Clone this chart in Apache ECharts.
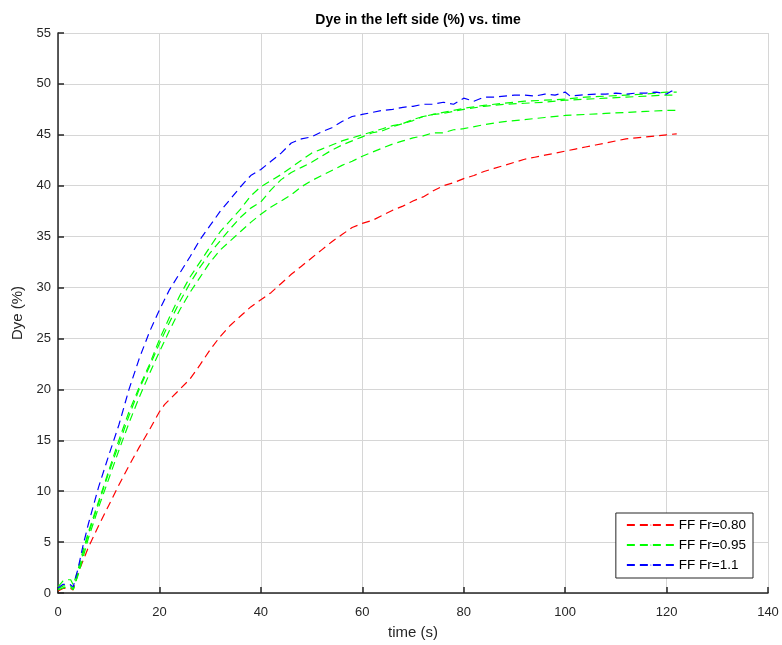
<!DOCTYPE html>
<html>
<head>
<meta charset="utf-8">
<script src="https://cdn.jsdelivr.net/npm/echarts@6/dist/echarts.min.js"></script>
<style>
  html, body { margin: 0; padding: 0; background: #ffffff; }
  #chart { width: 782px; height: 645px; }
</style>
</head>
<body>
<div id="chart"></div>
<script>
// Dye fraction in the left side (%) over time (s), one array per run.
const timeRed = [0, 1, 2, 2.5, 3, 4, 6, 8, 10, 12, 14, 16, 18, 20, 21, 22, 24, 26, 28, 30, 32, 34, 36, 38, 40, 42, 44, 46, 48, 50, 52, 54, 56, 58, 60, 62, 64, 66, 68, 70, 72, 74, 76, 78, 80, 82, 84, 86, 88, 90, 92, 94, 96, 98, 100, 102, 104, 106, 108, 110, 112, 114, 116, 118, 120, 122];
const dyeRed080 = [0.2, 0.45, 0.45, 0.45, 0.3, 2.0, 4.5, 6.6, 8.6, 10.6, 12.5, 14.3, 16.0, 17.8, 18.5, 19.0, 20.0, 21.0, 22.4, 23.9, 25.2, 26.3, 27.2, 28.1, 28.8, 29.5, 30.4, 31.3, 32.1, 32.9, 33.7, 34.5, 35.2, 35.9, 36.3, 36.6, 37.1, 37.6, 38.0, 38.5, 38.9, 39.5, 40.0, 40.3, 40.7, 41.0, 41.4, 41.7, 42.0, 42.3, 42.6, 42.8, 43.0, 43.2, 43.4, 43.6, 43.8, 44.0, 44.2, 44.4, 44.6, 44.7, 44.8, 44.9, 45.0, 45.1];

const timeBlue = [0, 1, 2, 2.5, 3, 4, 5, 6, 8, 10, 12, 14, 16, 18, 20, 22, 24, 26, 28, 30, 32, 34, 36, 38, 40, 42, 44, 46, 48, 50, 52, 54, 56, 58, 60, 62, 64, 66, 68, 70, 72, 74, 76, 78, 80, 82, 84, 86, 88, 90, 92, 94, 96, 98, 100, 101, 103, 106, 108, 110, 112, 114, 116, 118, 120, 121, 122];
const dyeBlue11 = [0.5, 0.85, 0.85, 0.8, 0.6, 2.5, 4.8, 6.8, 10.4, 13.5, 16.5, 20.0, 23.0, 25.6, 27.8, 29.8, 31.4, 33.0, 34.7, 36.1, 37.5, 38.7, 39.9, 41.0, 41.6, 42.4, 43.2, 44.2, 44.6, 44.8, 45.3, 45.7, 46.3, 46.8, 47.0, 47.2, 47.4, 47.5, 47.7, 47.8, 48.0, 48.0, 48.2, 48.0, 48.6, 48.3, 48.7, 48.7, 48.8, 48.9, 48.9, 48.8, 49.0, 48.9, 49.2, 48.8, 48.9, 49.0, 49.0, 49.1, 49.0, 49.1, 49.1, 49.2, 49.0, 49.3, 49.1];

const timeGreen = [0, 1, 2, 2.5, 3, 4, 5, 6, 8, 10, 12, 14, 16, 18, 20, 22, 24, 26, 28, 30, 32, 34, 36, 38, 40, 42, 44, 46, 48, 50, 52, 54, 56, 58, 60, 62, 64, 66, 68, 70, 72, 74, 76, 78, 80, 84, 88, 92, 96, 100, 104, 108, 112, 116, 120, 122];
const dyeGreenA = [0.6, 1.2, 1.3, 1.3, 0.8, 2.4, 4.3, 6.0, 9.0, 12.0, 15.0, 17.8, 20.2, 22.4, 24.9, 27.1, 29.2, 31.0, 32.5, 34.0, 35.5, 36.6, 37.7, 39.0, 39.9, 40.5, 41.1, 41.8, 42.5, 43.2, 43.6, 44.0, 44.4, 44.7, 45.0, 45.3, 45.6, 45.9, 46.1, 46.5, 46.8, 47.0, 47.2, 47.4, 47.6, 47.9, 48.1, 48.3, 48.4, 48.5, 48.7, 48.8, 48.9, 49.0, 49.2, 49.2];
const dyeGreenB = [0.3, 0.5, 0.6, 0.6, 0.3, 2.0, 4.0, 5.8, 8.8, 11.8, 14.6, 17.4, 20.0, 22.2, 24.5, 26.6, 28.6, 30.4, 32.0, 33.4, 34.6, 35.8, 36.9, 37.8, 38.4, 39.6, 40.6, 41.3, 41.8, 42.3, 42.9, 43.5, 44.0, 44.4, 44.8, 45.2, 45.4, 45.8, 46.1, 46.4, 46.8, 47.0, 47.1, 47.3, 47.5, 47.8, 48.0, 48.1, 48.2, 48.4, 48.5, 48.6, 48.7, 48.8, 48.9, 48.9];
const dyeGreenC = [0.4, 0.7, 0.7, 0.7, 0.4, 1.8, 3.6, 5.4, 8.4, 11.2, 14.0, 16.7, 19.2, 21.5, 23.7, 25.8, 27.8, 29.5, 31.0, 32.5, 33.7, 34.6, 35.5, 36.4, 37.2, 37.9, 38.5, 39.1, 39.9, 40.5, 41.0, 41.5, 42.0, 42.4, 42.9, 43.3, 43.7, 44.1, 44.4, 44.7, 44.9, 45.2, 45.2, 45.5, 45.6, 46.0, 46.3, 46.5, 46.7, 46.9, 47.0, 47.1, 47.2, 47.3, 47.4, 47.4];

const seriesNames = ['FF Fr=0.80', 'FF Fr=0.95', 'FF Fr=1.1'];
const xTicks = [0, 20, 40, 60, 80, 100, 120, 140];
const yTicks = [0, 5, 10, 15, 20, 25, 30, 35, 40, 45, 50, 55];

const pairs = (t, v) => t.map((x, i) => [x, v[i]]);
const FONT = 'Liberation Sans, Arial, Helvetica, sans-serif';
const INK = '#262626';
// three short dashes, used as the legend key
const DASH_KEY = 'path://M0,0h12v1.4h-12z M18,0h12v1.4h-12z M36,0h12v1.4h-12z';

function run(name, color, t, v) {
  return {
    name: name,
    type: 'line',
    data: pairs(t, v),
    symbol: 'none',
    legendIcon: DASH_KEY,
    smooth: false,
    animation: false,
    lineStyle: { color: color, width: 1.2, type: [8, 5] },
    itemStyle: { color: color }
  };
}

const chart = echarts.init(document.getElementById('chart'), null, { renderer: 'canvas' });
chart.setOption({
  backgroundColor: '#ffffff',
  animation: false,
  title: {
    text: 'Dye in the left side (%) vs. time',
    left: 413,
    textAlign: 'center',
    top: 8,
    textStyle: { fontFamily: FONT, fontSize: 14, fontWeight: 'bold', color: '#000000' }
  },
  grid: { left: 58, right: 14, top: 33, bottom: 52, containLabel: false },
  legend: {
    data: seriesNames,
    orient: 'vertical',
    right: 29,
    bottom: 67,
    itemWidth: 48,
    itemHeight: 1.4,
    itemGap: 6,
    symbolKeepAspect: false,
    padding: [5, 7, 6, 10],
    borderColor: INK,
    borderWidth: 1,
    borderRadius: 0,
    backgroundColor: '#ffffff',
    textStyle: { fontFamily: FONT, fontSize: 13.5, lineHeight: 14, color: '#000000', padding: [0, 0, 0, -1] }
  },
  xAxis: {
    type: 'value',
    min: 0,
    max: 140,
    interval: 20,
    name: 'time (s)',
    nameLocation: 'middle',
    nameGap: 32,
    nameTextStyle: { fontFamily: FONT, fontSize: 15, color: INK },
    axisLine: { show: true, lineStyle: { color: INK, width: 1.5 } },
    axisTick: { show: true, inside: true, length: 6, lineStyle: { color: INK, width: 1.5 } },
    axisLabel: { fontFamily: FONT, fontSize: 13, color: INK, margin: 13,
      customValues: xTicks },
    splitLine: { show: true, lineStyle: { color: '#d6d6d6', width: 1 } }
  },
  yAxis: {
    type: 'value',
    min: 0,
    max: 55,
    interval: 5,
    name: 'Dye (%)',
    nameLocation: 'middle',
    nameGap: 31,
    nameRotate: 90,
    nameTextStyle: { fontFamily: FONT, fontSize: 15, color: INK },
    axisLine: { show: true, lineStyle: { color: INK, width: 1.5 } },
    axisTick: { show: true, inside: true, length: 6, lineStyle: { color: INK, width: 1.5 } },
    axisLabel: { fontFamily: FONT, fontSize: 13, color: INK, margin: 7,
      customValues: yTicks },
    splitLine: { show: true, lineStyle: { color: '#d6d6d6', width: 1 } }
  },
  series: [
    run(seriesNames[0], '#ff0000', timeRed, dyeRed080),
    run(seriesNames[1], '#00ff00', timeGreen, dyeGreenA),
    run(seriesNames[1], '#00ff00', timeGreen, dyeGreenB),
    run(seriesNames[1], '#00ff00', timeGreen, dyeGreenC),
    run(seriesNames[2], '#0000ff', timeBlue, dyeBlue11)
  ]
});
</script>
</body>
</html>
